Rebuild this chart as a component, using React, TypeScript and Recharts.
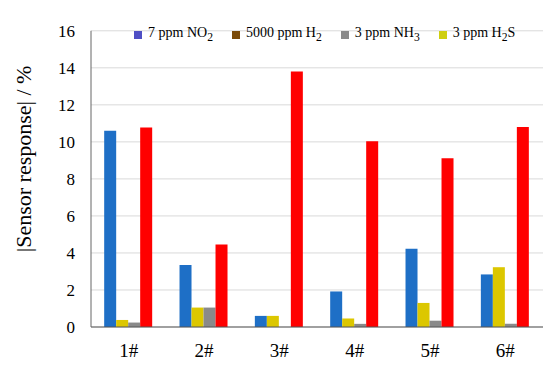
import React from 'react';
import { BarChart, Bar, XAxis, YAxis, CartesianGrid, Legend } from 'recharts';

const sensors = ['1#', '2#', '3#', '4#', '5#', '6#'];
const no2 = [10.6, 3.35, 0.6, 1.92, 4.23, 2.84];
const h2s = [0.38, 1.05, 0.6, 0.46, 1.3, 3.23];
const nh3 = [0.24, 1.05, 0, 0.17, 0.34, 0.17];
const h2 = [10.78, 4.45, 13.8, 10.04, 9.12, 10.8];
const yTicks = [0, 2, 4, 6, 8, 10, 12, 14, 16];

const data = sensors.map((s, i) => ({
  sensor: s,
  no2: no2[i],
  h2s: h2s[i],
  nh3: nh3[i],
  h2: h2[i],
}));

const FONT = '"Liberation Serif", "DejaVu Serif", serif';

const legendItems = [
  { color: '#4F4FC4', label: <>7 ppm NO<sub>2</sub></> },
  { color: '#7A4A08', label: <>5000 ppm H<sub>2</sub></> },
  { color: '#8A8A8A', label: <>3 ppm NH<sub>3</sub></> },
  { color: '#CFCF10', label: <>3 ppm H<sub>2</sub>S</> },
];

const LegendContent = () => (
  <div style={{ display: 'flex', fontFamily: FONT, fontSize: 14, color: '#000', lineHeight: '16px' }}>
    {legendItems.map((it, i) => (
      <div key={i} style={{ display: 'flex', alignItems: 'center', marginRight: 19 }}>
        <span style={{ width: 8, height: 8, background: it.color, marginRight: 6, display: 'inline-block' }} />
        <span>{it.label}</span>
      </div>
    ))}
  </div>
);

const YLabel = (props: any) => {
  const { viewBox } = props;
  const x = viewBox.x + 24;
  const y = viewBox.y + viewBox.height / 2 - 20;
  return (
    <text
      x={x}
      y={y}
      transform={`rotate(-90, ${x}, ${y})`}
      textAnchor="middle"
      dominantBaseline="central"
      fontFamily={FONT}
      fontSize={22}
      fill="#000"
    >
      |Sensor response| / %
    </text>
  );
};

export default function App() {
  return (
    <div style={{ position: 'absolute', left: 0, top: 0, background: '#fff' }}>
      <BarChart
        width={550}
        height={365}
        data={data}
        margin={{ top: 10, right: 7, bottom: 8, left: 0 }}
        barGap={0}
        barCategoryGap="17.5%"
      >
        <CartesianGrid horizontal vertical={false} stroke="#d9d9d9" />
        <XAxis
          dataKey="sensor"
          height={30}
          tickLine={false}
          tickSize={0}
          tickMargin={17}
          axisLine={{ stroke: '#555' }}
          tick={{ fontFamily: FONT, fontSize: 19, fill: '#000' }}
        />
        <XAxis xAxisId="top" orientation="top" dataKey="sensor" height={0} tick={false} tickLine={false} axisLine={{ stroke: '#666' }} />
        <YAxis
          width={91}
          domain={[0, 16]}
          ticks={yTicks}
          interval={0}
          tickLine={false}
          tickSize={0}
          tickMargin={16}
          axisLine={{ stroke: '#666' }}
          tick={{ fontFamily: FONT, fontSize: 17, fill: '#000' }}
          label={<YLabel />}
        />
        <YAxis yAxisId="right" orientation="right" width={0} domain={[0, 16]} tick={false} tickLine={false} axisLine={{ stroke: '#666' }} />
        <Legend
          verticalAlign="top"
          content={<LegendContent />}
          wrapperStyle={{ position: 'absolute', top: 25, left: 134, width: 'auto' }}
        />
        <Bar dataKey="no2" fill="#1E6FC6" isAnimationActive={false} />
        <Bar dataKey="h2s" fill="#DCC700" isAnimationActive={false} />
        <Bar dataKey="nh3" fill="#8A8A8A" isAnimationActive={false} />
        <Bar dataKey="h2" fill="#FF0000" isAnimationActive={false} />
      </BarChart>
    </div>
  );
}
